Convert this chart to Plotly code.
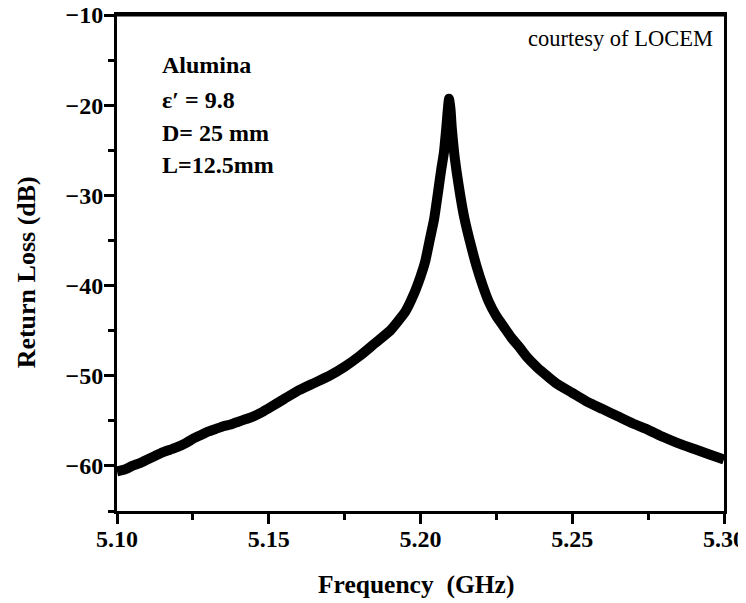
import plotly.graph_objects as go

# Data
freq_ghz = [5.100, 5.1025, 5.105, 5.1075, 5.110, 5.1125, 5.115, 5.1175, 5.120, 5.1225,
            5.125, 5.1275, 5.130, 5.1325, 5.135, 5.1375, 5.140, 5.1425, 5.145, 5.1475,
            5.150, 5.155, 5.160, 5.165, 5.170, 5.175, 5.180, 5.185, 5.190, 5.1925,
            5.195, 5.1975, 5.200, 5.2015, 5.203, 5.2045, 5.2058, 5.2068, 5.2077, 5.2085,
            5.2090, 5.2094, 5.2099, 5.2103, 5.2111, 5.2120, 5.2131, 5.2145, 5.2165, 5.2185,
            5.2205, 5.2225, 5.225, 5.2275, 5.230, 5.2325, 5.235, 5.2385, 5.242, 5.245,
            5.250, 5.255, 5.260, 5.265, 5.270, 5.275, 5.280, 5.285, 5.290, 5.295, 5.300]
return_loss_db = [-60.6, -60.4, -60.0, -59.7, -59.3, -58.9, -58.5, -58.2, -57.9, -57.5,
                  -57.0, -56.6, -56.2, -55.9, -55.6, -55.4, -55.1, -54.8, -54.5, -54.1,
                  -53.6, -52.6, -51.6, -50.8, -50.0, -49.0, -47.8, -46.4, -45.0, -44.0,
                  -42.9, -41.2, -39.0, -37.4, -35.0, -32.6, -29.6, -27.2, -25.3, -22.5,
                  -20.5, -19.3, -20.5, -22.5, -25.3, -27.6, -30.0, -32.6, -35.4, -37.9,
                  -40.0, -41.8, -43.4, -44.6, -45.8, -46.8, -47.9, -49.1, -50.1, -50.9,
                  -51.9, -52.9, -53.7, -54.5, -55.3, -56.0, -56.8, -57.5, -58.1, -58.7, -59.3]

x_ticks = [5.10, 5.15, 5.20, 5.25, 5.30]
x_ticklabels = ["5.10", "5.15", "5.20", "5.25", "5.30"]
y_ticks = [-10, -20, -30, -40, -50, -60]
y_range = [-65, -10]

info_lines = ["Alumina", "ε′ = 9.8", "D= 25 mm", "L=12.5mm"]
info_y = [0.899, 0.829, 0.762, 0.698]

SERIF = "Liberation Serif, Times New Roman, serif"

fig = go.Figure()
fig.add_trace(go.Scatter(
    x=freq_ghz, y=return_loss_db, mode="lines",
    line=dict(color="black", width=10, shape="spline", smoothing=0.5),
    showlegend=False, hoverinfo="skip",
))

axis_common = dict(
    showline=True, linecolor="black", linewidth=3, mirror=True,
    ticks="outside", ticklen=10, tickwidth=3, tickcolor="black",
    showgrid=False, zeroline=False, automargin=False,
    ticklabeloverflow="allow",
    tickfont=dict(family=SERIF, size=24, color="black", weight="bold"),
)

fig.update_xaxes(
    range=[5.10, 5.30], tickvals=x_ticks, ticktext=x_ticklabels,
    minor=dict(dtick=0.025, tick0=5.10, ticks="outside", ticklen=6, tickwidth=3, tickcolor="black"),
    ticklabelstandoff=-6,
    **axis_common,
)
fig.update_yaxes(
    range=y_range, tickvals=y_ticks,
    minor=dict(dtick=5, tick0=-65, ticks="outside", ticklen=6, tickwidth=3, tickcolor="black"),
    ticklabelstandoff=-4,
    **axis_common,
)

annotations = []
for txt, yy in zip(info_lines, info_y):
    annotations.append(dict(
        text=txt, x=0.0708, y=yy, xref="paper", yref="paper",
        xanchor="left", yanchor="middle", showarrow=False,
        font=dict(family=SERIF, size=24, color="black", weight="bold"),
    ))
annotations.append(dict(
    text="courtesy of LOCEM", x=0.985, y=0.952, xref="paper", yref="paper",
    xanchor="right", yanchor="middle", showarrow=False,
    font=dict(family=SERIF, size=22.5, color="black"),
))
annotations.append(dict(
    text="Frequency  (GHz)", x=0.4934, y=-0.149, xref="paper", yref="paper",
    xanchor="center", yanchor="middle", showarrow=False,
    font=dict(family=SERIF, size=25.5, color="black", weight="bold"),
))
annotations.append(dict(
    text="Return Loss (dB)", x=-0.150, y=0.481, xref="paper", yref="paper",
    xanchor="center", yanchor="middle", showarrow=False, textangle=-90,
    font=dict(family=SERIF, size=26, color="black", weight="bold"),
))

# Top edge of the plot frame, drawn explicitly at the top of the y range
fig.add_shape(type="line", xref="paper", yref="y", x0=0, x1=1,
              y0=y_range[1], y1=y_range[1],
              line=dict(color="black", width=3), layer="above")

# The page body adds an 8 px margin, so the figure is 8 px smaller than the window.
fig.update_layout(
    width=738, height=595,
    margin=dict(l=109, r=22, t=7, b=92),
    paper_bgcolor="white", plot_bgcolor="white",
    hovermode=False,
    modebar=dict(bgcolor="rgba(0,0,0,0)", color="rgba(0,0,0,0)", activecolor="rgba(0,0,0,0)"),
    annotations=annotations,
)

fig.write_html("out.html")
